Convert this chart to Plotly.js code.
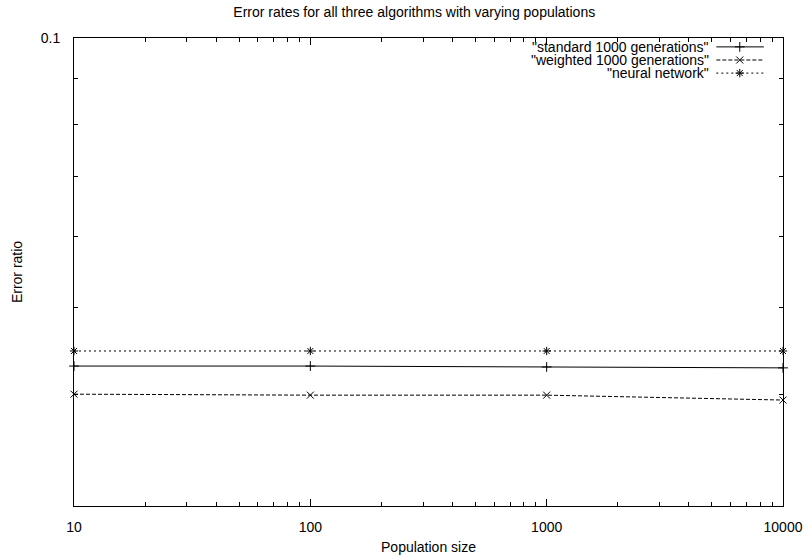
<!DOCTYPE html>
<html>
<head>
<meta charset="utf-8">
<script src="https://cdn.plot.ly/plotly-3.0.1.min.js"></script>
<style>html,body{margin:0;padding:0;background:#fff;}#chart{width:806px;height:558px;}</style>
</head>
<body>
<div id="chart"></div>
<script>
const populations = [10, 100, 1000, 10000];
const standard1000 = [0.0430, 0.0430, 0.0429, 0.0428];
const weighted1000 = [0.0400, 0.0399, 0.0399, 0.0394];
const neuralNetwork = [0.0447, 0.0447, 0.0447, 0.0447];
const seriesNames = ['"standard 1000 generations"', '"weighted 1000 generations"', '"neural network"'];
const xTickVals = [10, 100, 1000, 10000];
const xTickText = ['10', '100', '1000', '10000'];
const yTickVals = [0.1];
const yTickText = ['0.1'];

const xMinor = [];
for (let d = 10; d < 10000; d *= 10) for (let k = 2; k <= 9; k++) xMinor.push(d * k);
const yMinor = [0.03, 0.04, 0.05, 0.06, 0.07, 0.08, 0.09];

const styles = [
  {dash: 'solid', symbol: 'cross-thin-open'},
  {dash: '4px,2px', symbol: 'x-thin-open'},
  {dash: '2px,3px', symbol: 'asterisk-open'}
];
const values = [standard1000, weighted1000, neuralNetwork];

const traces = values.map((v, i) => ({
  x: populations, y: v, type: 'scatter', mode: 'lines+markers',
  name: seriesNames[i], showlegend: false,
  line: {color: '#000', width: 1, dash: styles[i].dash},
  marker: {symbol: styles[i].symbol, size: 7, color: '#000', line: {color: '#000', width: 1}},
  cliponaxis: false
}));

// legend samples (gnuplot-style key: text left, sample right)
const keyRows = [0.981, 0.953, 0.925];
values.forEach((v, i) => {
  traces.push({
    x: [0.906, 0.939, 0.973], y: [keyRows[i], keyRows[i], keyRows[i]],
    xaxis: 'x2', yaxis: 'y2', type: 'scatter', mode: 'lines', showlegend: false,
    line: {color: '#000', width: 1, dash: styles[i].dash}, hoverinfo: 'skip'
  });
  traces.push({
    x: [0.939], y: [keyRows[i]],
    xaxis: 'x2', yaxis: 'y2', type: 'scatter', mode: 'markers', showlegend: false,
    marker: {symbol: styles[i].symbol, size: 7, color: '#000', line: {color: '#000', width: 1}}, hoverinfo: 'skip'
  });
});

const font = {family: 'Liberation Sans, Arial, sans-serif', size: 14, color: '#000'};

const annotations = seriesNames.map((n, i) => ({
  text: n, xref: 'paper', yref: 'paper', x: 0.897, y: keyRows[i],
  xanchor: 'right', yanchor: 'middle', showarrow: false, borderpad: 0,
  font: font
}));

const layout = {
  width: 806, height: 558,
  margin: {l: 74, r: 23, t: 38, b: 52, pad: 0},
  paper_bgcolor: '#fff', plot_bgcolor: '#fff',
  font: font,
  showlegend: false,
  title: {text: 'Error rates for all three algorithms with varying populations', font: font,
          x: 0.514, xref: 'container', xanchor: 'center', y: 1 - 12/558, yref: 'container', yanchor: 'middle'},
  xaxis: {
    type: 'log', range: [1, 4], showgrid: false, zeroline: false,
    showline: true, linecolor: '#000', linewidth: 1, mirror: 'allticks',
    ticks: 'inside', ticklen: 7, tickcolor: '#000', tickwidth: 1,
    tickmode: 'array', tickvals: xTickVals, ticktext: xTickText,
    tickfont: font, ticklabelstandoff: 8,
    minor: {tickmode: 'array', tickvals: xMinor, ticks: 'inside', ticklen: 4, tickcolor: '#000', tickwidth: 1, showgrid: false},
    title: {text: 'Population size', font: font, standoff: 8}
  },
  yaxis: {
    type: 'log', range: [Math.log10(0.03), -1], showgrid: false, zeroline: false,
    showline: true, linecolor: '#000', linewidth: 1, mirror: 'allticks',
    ticks: 'inside', ticklen: 7, tickcolor: '#000', tickwidth: 1,
    tickmode: 'array', tickvals: yTickVals, ticktext: yTickText,
    tickfont: font, ticklabelstandoff: 10,
    minor: {tickmode: 'array', tickvals: yMinor, ticks: 'inside', ticklen: 4, tickcolor: '#000', tickwidth: 1, showgrid: false},
    title: {text: 'Error ratio', font: font, standoff: 14}
  },
  xaxis2: {overlaying: 'x', range: [0, 1], visible: false, fixedrange: true},
  yaxis2: {overlaying: 'y', range: [0, 1], visible: false, fixedrange: true},
  annotations: annotations
};

Plotly.newPlot('chart', traces, layout, {displayModeBar: false, staticPlot: true});
</script>
</body>
</html>
